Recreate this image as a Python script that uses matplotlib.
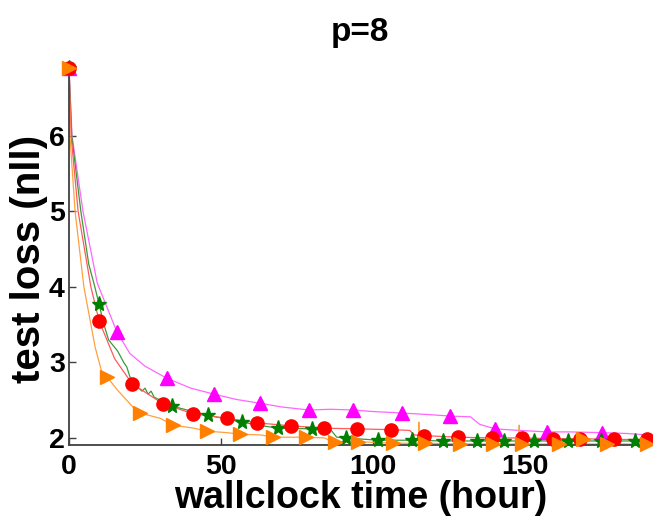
import numpy as np
import matplotlib
matplotlib.use("Agg")
import matplotlib.pyplot as plt

plt.rcParams['font.family'] = ['Liberation Sans', 'DejaVu Sans']
plt.rcParams['font.weight'] = 'bold'

# ---- series: marker points and extra line points (time in hours, test nll) ----
mag_mk_t = [0, 15.8, 32.2, 47.7, 62.8, 78.9, 93.4, 109.5, 125.3, 140.1, 157.2, 175.3]
mag_mk_y = [6.9, 3.40, 2.79, 2.58, 2.46, 2.37, 2.37, 2.33, 2.29, 2.12, 2.08, 2.07]
mag_ln_t = [1.0, 4.6, 9.3, 20, 25, 40, 55, 70, 86, 100, 118, 132, 135, 148, 165, 183, 190]
mag_ln_y = [6.0, 5.0, 4.05, 3.12, 2.95, 2.66, 2.51, 2.41, 2.38, 2.35, 2.31, 2.28, 2.18, 2.10, 2.08, 2.06, 2.04]

red_mk_t = [0, 9.9, 20.7, 31, 40.9, 51.9, 61.8, 73, 83.9, 94.7, 106, 116.8, 128, 139, 149, 159, 168, 179, 190]
red_mk_y = [6.9, 3.55, 2.72, 2.45, 2.32, 2.26, 2.20, 2.16, 2.13, 2.12, 2.11, 2.03, 2.01, 2.00, 2.00, 1.99, 1.99, 1.98, 1.98]
red_ln_t = [0.7, 3.0, 7.2, 15, 112, 113.5]
red_ln_y = [6.0, 5.0, 4.0, 3.05, 2.10, 2.04]

grn_mk_t = [0, 9.9, 34, 45.7, 57, 68.8, 80, 91, 101.6, 112.8, 123, 134, 143, 153, 164, 175, 186]
grn_mk_y = [6.9, 3.77, 2.42, 2.30, 2.21, 2.13, 2.12, 2.00, 1.97, 1.97, 1.96, 1.96, 1.96, 1.96, 1.96, 1.96, 1.96]
grn_ln_t = [0.9, 3.9, 6.5, 8.5, 11.5, 13, 16, 18, 19, 20.5, 22.4, 24, 25, 26, 27, 28, 30, 62, 86, 88, 190]
grn_ln_y = [6.0, 5.0, 4.3, 4.0, 3.5, 3.3, 3.15, 3.0, 2.94, 2.75, 2.68, 2.62, 2.66, 2.58, 2.62, 2.54, 2.50, 2.17, 2.11, 2.01, 1.96]

org_mk_t = [0, 12.5, 23.4, 34.2, 45.4, 56.3, 67, 78, 87.5, 95, 106.5, 117, 128.6, 139.5, 149, 161, 169, 177, 190]
org_mk_y = [6.9, 2.81, 2.33, 2.17, 2.09, 2.05, 2.01, 2.01, 1.95, 1.95, 1.93, 1.93, 1.92, 1.92, 1.92, 1.92, 1.98, 1.92, 1.92]
org_ln_t = [0.3, 2.0, 4.9, 8.6, 10.8, 15.8, 21, 30, 41, 52, 63, 84, 86, 114.9, 115, 115.1, 147.9, 148, 148.1, 168.6, 169.4]
org_ln_y = [6.0, 5.0, 4.0, 3.2, 2.87, 2.64, 2.41, 2.26, 2.13, 2.07, 2.04, 2.00, 1.96, 1.93, 2.21, 1.93, 1.92, 2.17, 1.92, 1.92, 1.92]

series = [
    # (marker t, marker y, line t, line y, color, line color, marker, size)
    (mag_mk_t, mag_mk_y, mag_ln_t, mag_ln_y, '#FF00FF', '#FF66FF', '^', 10),
    (grn_mk_t, grn_mk_y, grn_ln_t, grn_ln_y, '#008000', '#3A9A3A', '*', 11),
    (red_mk_t, red_mk_y, red_ln_t, red_ln_y, '#FF0000', '#FF5A5A', 'o', 9.5),
    (org_mk_t, org_mk_y, org_ln_t, org_ln_y, '#FF8000', '#FFA040', '>', 10),
]

fig = plt.figure(figsize=(6.53, 5.17), dpi=100)
ax = fig.add_axes([69 / 653, 0.1383, (647 - 69) / 653, 0.7344])

for mk_t, mk_y, ln_t, ln_y, col, lcol, mk, ms in series:
    t = np.concatenate([mk_t, ln_t])
    y = np.concatenate([mk_y, ln_y])
    order = np.argsort(t, kind='stable')
    ax.plot(t[order], y[order], color=lcol, lw=0.9, zorder=2)
    ax.plot(mk_t, mk_y, linestyle='none', marker=mk, color=col,
            markeredgecolor=col, markersize=ms, clip_on=False, zorder=3)

ax.set_xlim(0, 190)
ax.set_ylim(1.9, 6.93)
ax.set_xticks([0, 50, 100, 150])
ax.set_yticks([2, 3, 4, 5, 6])

for side in ('top', 'right'):
    ax.spines[side].set_visible(False)
for side in ('left', 'bottom'):
    ax.spines[side].set_color('#404040')
    ax.spines[side].set_linewidth(1.3)

ax.tick_params(direction='in', length=5, width=1, color='#404040',
               labelsize=20.5)
ax.tick_params(axis='x', pad=6)
ax.tick_params(axis='y', pad=3)
for lab in ax.get_xticklabels() + ax.get_yticklabels():
    lab.set_fontweight('bold')

fig.text(360 / 653, 1 - 41 / 517, 'p=8', ha='center', va='baseline',
         fontsize=24, fontweight='bold')
fig.text(361 / 653, 1 - 508 / 517, 'wallclock time (hour)', ha='center',
         va='baseline', fontsize=27, fontweight='bold')
fig.text(29 / 653, 1 - 259 / 517, 'test loss (nll)', ha='center',
         va='center', rotation=90, fontsize=29, fontweight='bold')

fig.savefig('out.png', dpi=100)
